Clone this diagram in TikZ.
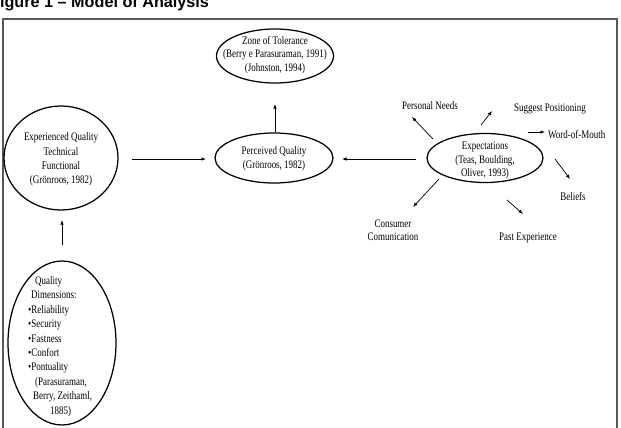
\documentclass[tikz,border=0pt]{standalone}
\usepackage{fontspec}
\setmainfont{Liberation Serif}[FakeStretch=0.78]
\newfontfamily\titlefont{Liberation Sans}
\usetikzlibrary{shapes.geometric,arrows.meta}
\begin{document}
\begin{tikzpicture}[x=1pt,y=-1pt,
  oval/.style={draw, ellipse, line width=1.25pt, inner sep=0pt},
  lbl/.style={inner sep=0pt, align=center, font=\fontsize{11.5}{14}\selectfont},
  arr/.style={-{Latex[length=4.5pt,width=3.5pt]}, line width=0.7pt}]
\useasboundingbox (0,0) rectangle (621,428);
\clip (0,0) rectangle (621,428);
\node[anchor=base west, font=\titlefont\bfseries\fontsize{16.2}{16.2}\selectfont, inner sep=0pt] (title) at (-10,7.5) {Figure 1 – Model of Analysis};
\draw[line width=1.5pt, draw=black!65] (3,440) -- (3,19) -- (617,19) -- (617,440);

% ellipses
\node[oval, minimum width=117pt, minimum height=54pt] (zone) at (275,56) {};
\node[oval, minimum width=118pt, minimum height=50pt] (perc) at (274,158) {};
\node[oval, minimum width=114pt, minimum height=104pt] (exp) at (61,158) {};
\node[oval, minimum width=108pt, minimum height=164pt] (qd) at (62,343) {};
\node[oval, minimum width=116pt, minimum height=49pt] (expc) at (485,158) {};

% texts
\node[lbl, font=\fontsize{11.5}{13.5}\selectfont] (zonet) at (275,55) {Zone of Tolerance\\ (Berry e Parasuraman, 1991)\\ (Johnston, 1994)};
\node[lbl] (perct) at (274,159) {Perceived Quality\\ (Grönroos, 1982)};
\node[lbl, font=\fontsize{11.5}{14.3}\selectfont] (expt) at (61,159.5) {Experienced Quality\\ Technical\\ Functional\\ (Grönroos, 1982)};
\node[lbl, font=\fontsize{11.5}{13.5}\selectfont] (expct) at (485,160.5) {Expectations\\ (Teas, Boulding,\\ Oliver, 1993)};
\node[lbl, align=left, anchor=west, font=\fontsize{11.5}{14.4}\selectfont] (qdt) at (28,346.5) {\hspace*{7pt}Quality\\ \hspace*{3pt}Dimensions:\\ •Reliability\\ •Security\\ •Fastness\\ •Confort\\ •Pontuality\\ \hspace*{7pt}(Parasuraman,\\ \hspace*{5pt}Berry, Zeithaml,\\ \hspace*{22pt}1885)};

% outer labels
\node[lbl] (pn) at (430,106) {Personal Needs};
\node[lbl] (sp) at (550,109) {Suggest Positioning};
\node[lbl, anchor=west] (wm) at (548,135) {Word-of-Mouth};
\node[lbl] (bel) at (573,197) {Beliefs};
\node[lbl] (pe) at (528,238) {Past Experience};
\node[lbl, font=\fontsize{11.5}{13}\selectfont] (cc) at (393,230.5) {Consumer\\ Comunication};

% arrow end points
\coordinate (a1) at (275,132); \coordinate (a2) at (275,104);
\coordinate (b1) at (132,159); \coordinate (b2) at (206,159);
\coordinate (c1) at (62,245);  \coordinate (c2) at (62,220);
\coordinate (d1) at (416,159); \coordinate (d2) at (342,159);
\coordinate (e1) at (433,139); \coordinate (e2) at (412,117);
\coordinate (f1) at (481,125); \coordinate (f2) at (492,111);
\coordinate (g1) at (528,132); \coordinate (g2) at (545,132);
\coordinate (h1) at (555,159); \coordinate (h2) at (570,179);
\coordinate (i1) at (507,200); \coordinate (i2) at (523,214);
\coordinate (j1) at (439,179); \coordinate (j2) at (413,207);

\draw[arr] (a1) -- (a2);
\draw[arr] (b1) -- (b2);
\draw[arr] (c1) -- (c2);
\draw[arr] (d1) -- (d2);
\draw[arr] (e1) -- (e2);
\draw[arr] (f1) -- (f2);
\draw[arr] (g1) -- (g2);
\draw[arr] (h1) -- (h2);
\draw[arr] (i1) -- (i2);
\draw[arr] (j1) -- (j2);
\end{tikzpicture}
\end{document}
